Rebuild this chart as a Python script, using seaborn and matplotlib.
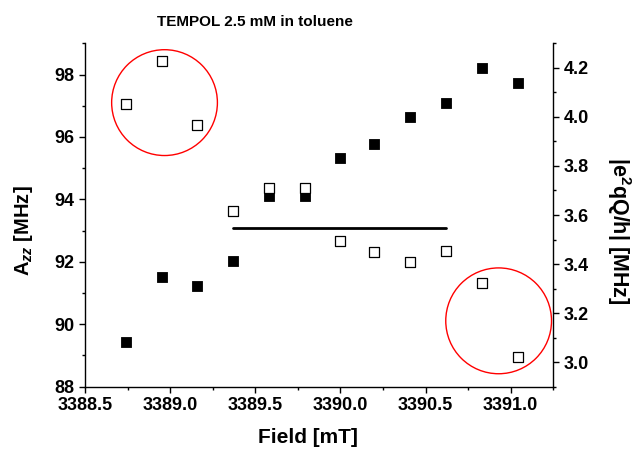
import numpy as np
import pandas as pd
import matplotlib
matplotlib.use("Agg")
import matplotlib.pyplot as plt
from matplotlib.ticker import MultipleLocator, FormatStrFormatter
from matplotlib.patches import Ellipse
import seaborn as sns

# ---- data ----
field_mT = [3388.74, 3388.95, 3389.16, 3389.37, 3389.58, 3389.79,
            3390.00, 3390.20, 3390.41, 3390.62, 3390.83, 3391.04]
azz_MHz = [89.42, 91.50, 91.24, 92.03, 94.10, 94.10,
           95.34, 95.79, 96.64, 97.10, 98.21, 97.74]
e2qQh_MHz = [4.051, 4.227, 3.966, 3.618, 3.709, 3.709,
             3.493, 3.449, 3.407, 3.453, 3.323, 3.020]
mean_range = (3, 9)  # indices of points averaged for the horizontal line
# annotation circles (centre field, centre Azz)
circle_centres = [(3388.967, 97.10), (3390.929, 90.11)]

title = "TEMPOL 2.5 mM in toluene"
xlabel = "Field [mT]"
ylabel_left = r"A$_{zz}$ [MHz]"
ylabel_right = r"|e$^{2}$qQ/h| [MHz]"

sns.set_style("ticks")
plt.rcParams["font.family"] = ["Liberation Sans", "DejaVu Sans"]
plt.rcParams["font.weight"] = "bold"
plt.rcParams["mathtext.fontset"] = "custom"
plt.rcParams["mathtext.rm"] = "Liberation Sans:bold"
plt.rcParams["mathtext.it"] = "Liberation Sans:italic:bold"
plt.rcParams["mathtext.bf"] = "Liberation Sans:bold"
for k in ["text.color", "axes.labelcolor", "xtick.color", "ytick.color",
          "axes.edgecolor"]:
    plt.rcParams[k] = "black"

df = pd.DataFrame({"field": field_mT, "azz": azz_MHz, "q": e2qQh_MHz})

fig = plt.figure(figsize=(6.33, 4.49), dpi=100)
ax = fig.add_axes([85 / 633, 1 - 386.7 / 449, 468.3 / 633, 343.4 / 449])
ax2 = ax.twinx()

sns.scatterplot(data=df, x="field", y="azz", ax=ax, marker="s", s=55,
                color="black", edgecolor="black", linewidth=0.6, zorder=3)
sns.scatterplot(data=df, x="field", y="q", ax=ax2, marker="s", s=52,
                facecolor="white", edgecolor="black", linewidth=0.9, zorder=4)

i0, i1 = mean_range
seg = df.iloc[i0:i1 + 1]
mean_q = seg["q"].mean()
line_df = pd.DataFrame({"field": [seg["field"].iloc[0], seg["field"].iloc[-1]],
                        "q": [mean_q, mean_q]})
sns.lineplot(data=line_df, x="field", y="q", ax=ax2, color="black",
             linewidth=2.0, zorder=3)

for (cx, cy) in circle_centres:
    ax.add_patch(Ellipse((cx, cy), width=0.621, height=3.39, fill=False,
                         edgecolor="red", linewidth=1.0, zorder=2))

ax.set_xlim(3388.5, 3391.25)
ax.set_ylim(88, 99)
ax2.set_ylim(2.9, 4.3)

ax.xaxis.set_major_locator(MultipleLocator(0.5))
ax.xaxis.set_minor_locator(MultipleLocator(0.25))
ax.xaxis.set_major_formatter(FormatStrFormatter("%.1f"))
ax.yaxis.set_major_locator(MultipleLocator(2))
ax.yaxis.set_minor_locator(MultipleLocator(1))
ax2.yaxis.set_major_locator(MultipleLocator(0.2))
ax2.yaxis.set_minor_locator(MultipleLocator(0.1))
ax2.yaxis.set_major_formatter(FormatStrFormatter("%.1f"))

for a in (ax, ax2):
    a.spines["top"].set_visible(False)
    for s in a.spines.values():
        s.set_linewidth(1.0)
        s.set_color("black")
    a.tick_params(which="major", direction="out", length=4.5, width=1.0,
                  labelsize=13, pad=3, colors="black")
    a.tick_params(which="minor", direction="out", length=2.5, width=1.0,
                  colors="black")
    for lab in a.get_xticklabels() + a.get_yticklabels():
        lab.set_fontweight("bold")
ax.spines["right"].set_visible(False)
ax2.spines["left"].set_visible(False)
ax2.spines["bottom"].set_visible(False)

ax.set_xlabel(xlabel, fontsize=15, fontweight="bold", va="center")
ax.xaxis.set_label_coords(0.476, -0.148)
ax.set_ylabel(ylabel_left, fontsize=14.5, fontweight="bold", va="center")
ax.yaxis.set_label_coords(-0.132, 0.453)
ax2.set_ylabel(ylabel_right, fontsize=15.5, fontweight="bold", rotation=270,
               va="center")
ax2.yaxis.set_label_coords(1.140, 0.454)

fig.text(254.7 / 633, 1 - 22 / 449, title, ha="center", va="center",
         fontsize=11, fontweight="bold")

fig.savefig("out.png", dpi=100)
